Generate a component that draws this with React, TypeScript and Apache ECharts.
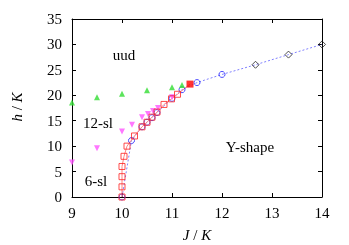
import React, { useEffect, useRef } from "react";
import * as echarts from "echarts";

const redOpen: [number, number][] = [
  [10, 0], [10, 2], [10, 4], [10, 6], [10.04, 8], [10.1, 10], [10.25, 12],
  [10.4, 13.8], [10.5, 14.7], [10.6, 15.7], [10.7, 16.7], [10.84, 18.2],
  [10.99, 19.3], [11.11, 20.2],
];
const redFilled: [number, number][] = [[11.36, 22.2]];
const blueCircles: [number, number][] = [
  [10, 0], [10.19, 11.1], [10.4, 13.8], [10.5, 14.7], [10.6, 15.6], [10.7, 16.6],
  [11, 19.4], [11.2, 21.1], [11.5, 22.5], [12, 24.1],
];
const blackDiamonds: [number, number][] = [[12.67, 26], [13.33, 28], [14, 30]];
const greenUp: [number, number][] = [
  [9, 18.6], [9.5, 19.6], [10, 20.3], [10.5, 21], [11, 21.6], [11.2, 22],
];
const magentaDown: [number, number][] = [
  [9, 6.8], [9.5, 9.6], [10, 12.9], [10.2, 14.2], [10.4, 15.7], [10.52, 16.3],
  [10.62, 16.9], [10.72, 17.5], [11, 19.6],
];
const regionLabels = ["uud", "12-sl", "6-sl", "Y-shape"];

const FONT = "Liberation Serif";

export default function App() {
  const ref = useRef<HTMLDivElement>(null);
  useEffect(() => {
    if (!ref.current) return;
    const chart = echarts.init(ref.current, undefined, { renderer: "svg" });
    const axisLine = { show: true, onZero: false, lineStyle: { color: "#000", width: 1 } };
    const tick = { show: true, inside: true, length: 4, lineStyle: { color: "#000" } };
    const lbl = { fontFamily: FONT, fontSize: 15, color: "#000" };
    const hollow = (c: string) => ({ color: "rgba(0,0,0,0)", borderColor: c, borderWidth: 1 });
    const txt = (text: string, x: number, y: number) => ({
      type: "text", x, y,
      style: { text, fontFamily: FONT, fontSize: 15, fill: "#000", align: "center", verticalAlign: "middle" },
    });
    const rich = { i: { fontStyle: "italic", fontFamily: FONT, fontSize: 15, fill: "#000" },
                   n: { fontFamily: FONT, fontSize: 15, fill: "#000" } };
    chart.setOption({
      animation: false,
      grid: { left: 72, right: 27, top: 19, bottom: 48 },
      xAxis: [
        { type: "value", min: 9, max: 14, interval: 1, position: "bottom", axisLine, axisTick: tick,
          splitLine: { show: false }, axisLabel: { ...lbl, margin: 8 } },
        { type: "value", min: 9, max: 14, interval: 1, position: "top", axisLine, axisTick: tick,
          splitLine: { show: false }, axisLabel: { show: false } },
      ],
      yAxis: [
        { type: "value", min: 0, max: 35, interval: 5, position: "left", axisLine, axisTick: tick,
          splitLine: { show: false }, axisLabel: { ...lbl, margin: 10 } },
        { type: "value", min: 0, max: 35, interval: 5, position: "right", axisLine, axisTick: tick,
          splitLine: { show: false }, axisLabel: { show: false } },
      ],
      series: [
        { type: "line", data: [...blueCircles, ...blackDiamonds], symbol: "none",
          lineStyle: { color: "#8080ff", width: 1, type: [2, 2] }, z: 2 },
        { type: "scatter", data: blueCircles, symbol: "circle", symbolSize: 6,
          itemStyle: hollow("#2020ff"), z: 4 },
        { type: "scatter", data: blackDiamonds, symbol: "diamond", symbolSize: 7,
          itemStyle: hollow("#222"), z: 4 },
        { type: "line", data: [...redOpen, ...redFilled], symbol: "none",
          lineStyle: { color: "#ff8080", width: 1 }, z: 3 },
        { type: "scatter", data: redOpen, symbol: "rect", symbolSize: 6,
          itemStyle: hollow("#ff2020"), z: 5 },
        { type: "scatter", data: redFilled, symbol: "rect", symbolSize: 7,
          itemStyle: { color: "#ff0000" }, z: 5 },
        { type: "scatter", data: greenUp, symbol: "triangle", symbolSize: 6,
          itemStyle: { color: "#33dd33" }, z: 4 },
        { type: "scatter", data: magentaDown, symbol: "triangle", symbolRotate: 180, symbolSize: 6,
          itemStyle: { color: "#ff55ff" }, z: 4 },
      ],
      graphic: [
        txt(regionLabels[0], 124, 55),
        txt(regionLabels[1], 98, 123),
        txt(regionLabels[2], 96, 181),
        txt(regionLabels[3], 250, 147),
        { type: "text", x: 197, y: 235, style: {
          text: "{i|J}{n| / }{i|K}", fontFamily: FONT, fontSize: 15, fill: "#000",
          align: "center", verticalAlign: "middle", rich } },
        { type: "text", x: 17, y: 107, rotation: Math.PI / 2, style: {
          text: "{i|h}{n| / }{i|K}", fontFamily: FONT, fontSize: 15, fill: "#000",
          align: "center", verticalAlign: "middle", rich } },
      ],
    });
    return () => chart.dispose();
  }, []);
  return (
    <div style={{ position: "fixed", left: 0, top: 0 }}>
      <div ref={ref} style={{ width: 349, height: 245 }} />
    </div>
  );
}
